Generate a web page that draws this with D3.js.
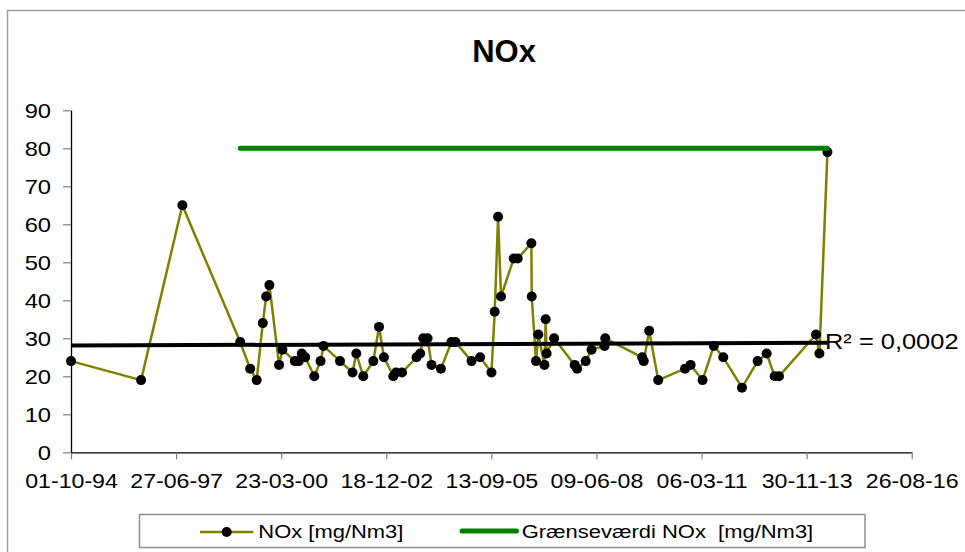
<!DOCTYPE html>
<html>
<head>
<meta charset="utf-8">
<script src="https://cdn.jsdelivr.net/npm/d3@7"></script>
<style>
  body { margin: 0; background: #fff; }
  svg { display: block; font-family: "Liberation Sans", Arial, sans-serif; }
</style>
</head>
<body>
<script>
"use strict";

// measurement dates and NOx values [mg/Nm3]
const sampleDates = [
  "1994-10-01", "1996-07-29", "1997-08-26", "1999-02-27", "1999-06-02", "1999-08-03", "1999-09-30", "1999-11-01",
  "1999-12-02", "2000-03-03", "2000-04-04", "2000-07-31", "2000-09-07", "2000-10-05", "2000-11-07", "2001-02-01",
  "2001-04-02", "2001-04-30", "2001-10-04", "2002-01-31", "2002-03-08", "2002-05-13", "2002-08-17", "2002-10-10",
  "2002-11-26", "2003-02-23", "2003-03-21", "2003-05-17", "2003-10-02", "2003-11-06", "2003-12-05", "2004-01-15",
  "2004-02-22", "2004-05-21", "2004-08-29", "2004-10-06", "2005-03-09", "2005-05-29", "2005-09-14", "2005-10-15",
  "2005-11-16", "2005-12-14", "2006-04-14", "2006-05-22", "2006-09-29", "2006-10-02", "2006-11-12", "2006-12-04",
  "2007-01-31", "2007-02-12", "2007-02-21", "2007-05-03", "2007-11-15", "2007-12-08", "2008-02-28", "2008-04-23",
  "2008-08-25", "2008-09-01", "2009-08-18", "2009-09-02", "2009-10-24", "2010-01-18", "2010-09-30", "2010-11-22",
  "2011-03-16", "2011-07-01", "2011-09-29", "2012-03-25", "2012-08-21", "2012-11-15", "2013-01-30", "2013-03-12",
  "2014-02-27", "2014-04-01", "2014-06-16"
];
const noxValues = [
  24, 19, 65, 29, 22, 19, 34, 41,
  44, 23, 27, 24, 24, 26, 25, 20,
  24, 28, 24, 21, 26, 20, 24, 33,
  25, 20, 21, 21, 25, 26, 30, 30,
  23, 22, 29, 29, 24, 25, 21, 37,
  62, 41, 51, 51, 55, 41, 24, 31,
  23, 35, 26, 30, 23, 22, 24, 27,
  28, 30, 25, 24, 32, 19, 22, 23,
  19, 28, 25, 17, 24, 26, 20, 20,
  31, 26, 79
];

// limit value series (Grænseværdi)
const limitDates = ["1999-02-27", "2014-06-16"];
const limitValues = [80, 80];

// linear trendline as shown in the picture (start / end value)
const trendDates = ["1994-10-01", "2014-06-16"];
const trendValues = [28.1, 28.8];

// axis ticks
const xTickLabels = ["01-10-94", "27-06-97", "23-03-00", "18-12-02", "13-09-05", "09-06-08", "06-03-11", "30-11-13", "26-08-16"];
const yTicks = [0, 10, 20, 30, 40, 50, 60, 70, 80, 90];

const seriesName = "NOx [mg/Nm3]";
const limitName = "Grænseværdi NOx  [mg/Nm3]";
const r2Label = "R² = 0,0002";

//Dimensions
const w = 965;
const h = 552;
const plotLeft = 71;
const plotRight = 911.7;
const plotTop = 110.3;
const plotBottom = 452.3;
const stretch = 1.13; // text in the picture is a bit wider than normal

const parseDate = d3.timeParse("%Y-%m-%d");
const parseTick = d3.timeParse("%d-%m-%y");

const data = sampleDates.map((d, i) => ({ date: parseDate(d), value: noxValues[i] }));
const limitData = limitDates.map((d, i) => ({ date: parseDate(d), value: limitValues[i] }));
const trendData = trendDates.map((d, i) => ({ date: parseDate(d), value: trendValues[i] }));
const tickDates = xTickLabels.map(parseTick);

const svg = d3.select("body").append("svg").attr("width", w).attr("height", h);

svg.append("rect").attr("width", w).attr("height", h).attr("fill", "#fff");

//outer frame (only left and top are visible)
svg.append("path")
  .attr("d", "M7.5,552V10.5H965")
  .attr("fill", "none")
  .attr("stroke", "#a0a0a0")
  .attr("stroke-width", 1.5);

//scales
const xScale = d3.scaleTime().domain([tickDates[0], tickDates[tickDates.length - 1]]).range([plotLeft, plotRight]);
const yScale = d3.scaleLinear().domain([0, 90]).range([plotBottom, plotTop]);

//title
svg.append("text")
  .attr("x", 504)
  .attr("y", 61.5)
  .attr("text-anchor", "middle")
  .attr("font-weight", "bold")
  .attr("font-size", 31)
  .text("NOx");

//axes
const xAxis = d3.axisBottom(xScale)
  .tickValues(tickDates)
  .tickFormat((d, i) => xTickLabels[i])
  .tickSize(7)
  .tickSizeOuter(0);

const yAxis = d3.axisLeft(yScale)
  .tickValues(yTicks)
  .tickSize(8)
  .tickSizeOuter(0);

const gx = svg.append("g")
  .attr("transform", `translate(0, ${plotBottom})`)
  .call(xAxis);
gx.selectAll(".tick line").attr("stroke", "#808080").attr("stroke-width", 1.2);
gx.selectAll(".tick text")
  .attr("y", 36)
  .attr("dy", null)
  .attr("fill", "#000")
  .attr("font-size", 20.5)
  .attr("font-family", "Liberation Sans, Arial, sans-serif")
  .attr("transform", `scale(${stretch},1)`);
gx.select(".domain").attr("stroke", "#000").attr("stroke-width", 1.3);

const gy = svg.append("g")
  .attr("transform", `translate(${plotLeft}, 0)`)
  .call(yAxis);
gy.selectAll(".tick line").attr("stroke", "#808080").attr("stroke-width", 1.2);
gy.selectAll(".tick text")
  .attr("x", -20 / stretch)
  .attr("fill", "#000")
  .attr("font-size", 21)
  .attr("font-family", "Liberation Sans, Arial, sans-serif")
  .attr("transform", `scale(${stretch},1)`);
gy.select(".domain").attr("stroke", "#000").attr("stroke-width", 1.3);

//NOx series
const line = d3.line()
  .x((d) => xScale(d.date))
  .y((d) => yScale(d.value));

svg.append("path")
  .datum(data)
  .attr("d", line)
  .attr("fill", "none")
  .attr("stroke", "#808000")
  .attr("stroke-width", 2.5)
  .attr("stroke-linejoin", "round");

svg.selectAll("circle.dot")
  .data(data)
  .enter()
  .append("circle")
  .attr("class", "dot")
  .attr("cx", (d) => xScale(d.date))
  .attr("cy", (d) => yScale(d.value))
  .attr("r", 5)
  .attr("fill", "#000");

//limit line
svg.append("path")
  .datum(limitData)
  .attr("d", line)
  .attr("fill", "none")
  .attr("stroke", "#008000")
  .attr("stroke-width", 5)
  .attr("stroke-linecap", "round");

//trendline
svg.append("path")
  .datum(trendData)
  .attr("d", line)
  .attr("fill", "none")
  .attr("stroke", "#000")
  .attr("stroke-width", 4);

svg.append("text")
  .attr("transform", `translate(825, 349) scale(${stretch},1)`)
  .attr("font-size", 22.5)
  .text(r2Label);

//legend
const legend = svg.append("g");
legend.append("rect")
  .attr("x", 139.5)
  .attr("y", 514.5)
  .attr("width", 725.5)
  .attr("height", 33)
  .attr("fill", "#fff")
  .attr("stroke", "#909090")
  .attr("stroke-width", 1.5);

legend.append("line")
  .attr("x1", 200).attr("x2", 253.3)
  .attr("y1", 532).attr("y2", 532)
  .attr("stroke", "#808000")
  .attr("stroke-width", 2.5);
legend.append("circle").attr("cx", 226.7).attr("cy", 532).attr("r", 5).attr("fill", "#000");
legend.append("text")
  .attr("transform", `translate(258.3, 538) scale(1.2,1)`)
  .attr("font-size", 18.3)
  .text(seriesName);

legend.append("line")
  .attr("x1", 462).attr("x2", 516.5)
  .attr("y1", 531).attr("y2", 531)
  .attr("stroke", "#008000")
  .attr("stroke-width", 5)
  .attr("stroke-linecap", "round");
legend.append("text")
  .attr("transform", `translate(521.7, 538) scale(1.2,1)`)
  .attr("font-size", 18.3)
  .style("white-space", "pre")
  .text(limitName);
</script>
</body>
</html>
